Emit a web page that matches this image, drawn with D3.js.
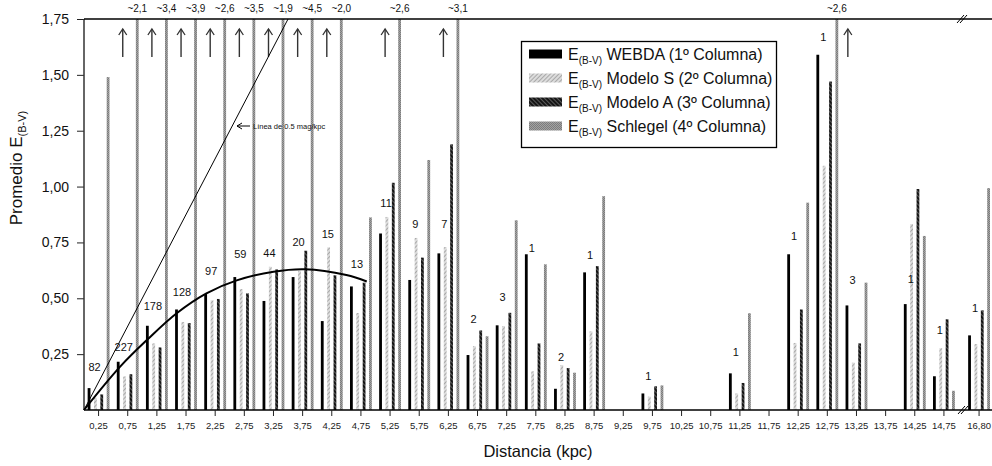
<!DOCTYPE html>
<html><head><meta charset="utf-8">
<script src="https://cdn.jsdelivr.net/npm/d3@7/dist/d3.min.js"></script>
<style>body{margin:0;background:#fff}svg{display:block;font-family:"Liberation Sans",Arial,sans-serif}</style>
</head><body><svg id="c" width="992" height="466"></svg>
<script>
// ---------- DATA ----------
const categories = ["0,25","0,75","1,25","1,75","2,25","2,75","3,25","3,75","4,25","4,75","5,25","5,75","6,25","6,75","7,25","7,75","8,25","8,75","9,25","9,75","10,25","10,75","11,25","11,75","12,25","12,75","13,25","13,75","14,25","14,75","16,80"];
const webda    = [0.098,0.216,0.377,0.450,0.519,0.595,0.488,0.595,0.398,0.553,0.790,0.582,0.701,0.246,0.379,0.697,0.095,0.616,null,0.074,null,null,0.164,null,0.697,1.590,0.468,null,0.474,0.151,0.334];
const modeloS  = [0.055,0.150,0.298,0.394,0.491,0.541,0.641,0.623,0.728,0.434,0.864,0.770,0.729,0.286,0.376,0.173,0.201,0.352,null,0.060,null,null,0.074,null,0.300,1.093,0.212,null,0.832,0.277,0.295];
const modeloA  = [0.070,0.160,0.280,0.389,0.497,0.522,0.629,0.713,0.603,0.570,1.017,0.682,1.189,0.356,0.435,0.298,0.188,0.644,null,0.106,null,null,0.121,null,0.450,1.470,0.298,null,0.989,0.406,0.446];
const schlegel = [1.49,2.1,3.4,3.9,2.6,3.5,1.9,4.5,2.0,0.862,2.6,1.119,3.1,0.330,0.849,0.652,0.167,0.957,null,0.110,null,null,0.433,null,0.928,2.6,0.570,null,0.779,0.086,0.993];
// number of clusters per bin, and the E(B-V) height at which each number is written
const counts   = [82,227,178,128,97,59,44,20,15,13,11,9,7,2,3,1,2,1,null,1,null,null,1,null,1,1,3,null,1,1,1];
const countAt  = [0.192,0.282,0.467,0.529,0.623,0.698,0.704,0.750,0.787,0.652,0.925,0.831,0.831,0.407,0.507,0.726,0.238,0.694,null,0.153,null,null,0.261,null,0.779,1.669,0.582,null,0.585,0.358,0.458];
const yTicks = [0.25,0.50,0.75,1.00,1.25,1.50,1.75];
// 0.5 mag/kpc reference line and polynomial trend (distance kpc, E(B-V))
const refLine = [[0,0],[3.5,1.75]];
const trendCurve = [[0,0],[0.62,0.194],[1.09,0.316],[1.59,0.433],[2.10,0.522],[2.62,0.58],[3.25,0.619],[3.79,0.63],[4.5,0.604],[4.85,0.575]];
const seriesNames = ["WEBDA (1º Columna)","Modelo S (2º Columna)","Modelo A (3º Columna)","Schlegel (4º Columna)"];

// ---------- SETUP ----------
const svg = d3.select("#c");
const yMax = 1.75;
const y = d3.scaleLinear().domain([0,yMax]).range([410,19]);
const mainCats = categories.slice(0,30);
const xBand = d3.scaleBand().domain(mainCats).range([84,958.5]);
const bw = xBand.bandwidth();
const xDist = d3.scaleLinear().domain([0,15]).range([84,958.5]);
const breakGap = 6;
function cx(i){ return i<30 ? xBand(categories[i])+bw/2 : 958.5+breakGap+bw/2; }

const keys = ["w","s","a","g"];
const seriesData = {w:webda,s:modeloS,a:modeloA,g:schlegel};
const inner = d3.scaleBand().domain(keys).range([0,25.4]);
const barW = 2.8;
function barX(i,k){ return cx(i)-12.7+inner(k)+(inner.step()-barW)/2; }

// patterns
const defs = svg.append("defs");
function hatch(id,bg,fg,angle,size,sw){
  const p = defs.append("pattern").attr("id",id).attr("patternUnits","userSpaceOnUse")
    .attr("width",size).attr("height",size).attr("patternTransform",`rotate(${angle})`);
  p.append("rect").attr("width",size).attr("height",size).attr("fill",bg);
  p.append("line").attr("x1",0.5).attr("y1",0).attr("x2",0.5).attr("y2",size).attr("stroke",fg).attr("stroke-width",sw);
}
hatch("pS","#dcdcdc","#a8a8a8",45,3,1);
hatch("pA","#151515","#5a5a5a",-45,3,1);
(function(){
  const p = defs.append("pattern").attr("id","pG").attr("patternUnits","userSpaceOnUse").attr("width",2).attr("height",2);
  p.append("rect").attr("width",2).attr("height",2).attr("fill","#a2a2a2");
  p.append("rect").attr("width",1).attr("height",1).attr("fill","#7c7c7c");
  p.append("rect").attr("x",1).attr("y",1).attr("width",1).attr("height",1).attr("fill","#7c7c7c");
})();
const fills = {w:"#000",s:"url(#pS)",a:"url(#pA)",g:"url(#pG)"};

// ---------- BARS ----------
keys.forEach(k=>{
  const vals = seriesData[k];
  svg.append("g").selectAll("rect").data(vals.map((v,i)=>({v,i})).filter(d=>d.v!=null))
    .join("rect")
    .attr("x",d=>barX(d.i,k)).attr("width",barW)
    .attr("y",d=>y(Math.min(d.v,yMax)))
    .attr("height",d=>y(0)-y(Math.min(d.v,yMax)))
    .attr("fill",fills[k]);
});

// clipped values: labels and arrows
const fmt = v => d3.format(".1f")(v).replace(".",",");
const clipped = schlegel.map((v,i)=>({v,i})).filter(d=>d.v!=null && d.v>yMax);
const gC = svg.append("g");
clipped.forEach(d=>{
  const bx = barX(d.i,"g")+barW/2;
  gC.append("text").attr("x",bx).attr("y",12).attr("text-anchor","middle")
    .attr("font-size",10).attr("fill","#111").text("~"+fmt(d.v));
  const side = categories[d.i]==="12,75" ? 11 : -14.5;
  const ax = bx+side;
  gC.append("line").attr("x1",ax).attr("x2",ax).attr("y1",57).attr("y2",29).attr("stroke","#333").attr("stroke-width",1.4);
  gC.append("path").attr("d",`M${ax-4},${35}L${ax},${29}L${ax+4},${35}`).attr("fill","none").attr("stroke","#333").attr("stroke-width",1.3);
});

// ---------- AXES ----------
const yAxis = svg.append("g").attr("transform","translate(84,0)")
  .call(d3.axisLeft(y).tickValues(yTicks).tickSize(7).tickPadding(8).tickFormat(v=>d3.format(".2f")(v).replace(".",",")));
yAxis.select(".domain").remove();
yAxis.selectAll("text").attr("font-size",14).attr("font-family","Liberation Sans, Arial, sans-serif").attr("fill","#111");
yAxis.selectAll("line").attr("stroke","#222");
svg.append("line").attr("x1",84).attr("x2",84).attr("y1",19).attr("y2",410).attr("stroke","#333").attr("stroke-width",1.5);
svg.append("line").attr("x1",84).attr("x2",992).attr("y1",410).attr("y2",410).attr("stroke","#000").attr("stroke-width",1.5);
svg.append("line").attr("x1",84).attr("x2",992).attr("y1",19).attr("y2",19).attr("stroke","#000").attr("stroke-width",1.5);

const gX = svg.append("g");
categories.forEach((c,i)=>{
  gX.append("line").attr("x1",cx(i)).attr("x2",cx(i)).attr("y1",410).attr("y2",416).attr("stroke","#222");
  gX.append("text").attr("x",cx(i)).attr("y",429).attr("text-anchor","middle").attr("font-size",9.5).attr("fill","#222").text(c);
});

// axis breaks
function brk(x,yy){
  [-1.5,1.5].forEach(o=>{
    svg.append("line").attr("x1",x+o-3.5).attr("y1",yy+4).attr("x2",x+o+3.5).attr("y2",yy-4).attr("stroke","#000").attr("stroke-width",1);
  });
}
brk(962,19); brk(963,410);

// titles
svg.append("text").attr("x",538).attr("y",457).attr("text-anchor","middle").attr("font-size",16.5).attr("fill","#111").text("Distancia (kpc)");
const yt = svg.append("text").attr("transform","translate(22,168) rotate(-90)").attr("text-anchor","middle").attr("font-size",17).attr("fill","#111");
yt.append("tspan").text("Promedio E");
yt.append("tspan").attr("font-size",11).attr("dy",4).text("(B-V)");

// ---------- LINES ----------
const line = d3.line().x(d=>xDist(d[0])).y(d=>y(d[1]));
svg.append("path").datum(refLine).attr("d",line).attr("fill","none").attr("stroke","#000").attr("stroke-width",1);
svg.append("path").datum(trendCurve).attr("d",line.curve(d3.curveCatmullRom)).attr("fill","none").attr("stroke","#000").attr("stroke-width",2);
// annotation
svg.append("line").attr("x1",250).attr("x2",237).attr("y1",126).attr("y2",126).attr("stroke","#000").attr("stroke-width",1);
svg.append("path").attr("d","M242,123L237,126L242,129").attr("fill","none").attr("stroke","#000").attr("stroke-width",1);
svg.append("text").attr("x",253).attr("y",129).attr("font-size",7.5).attr("fill","#111").text("Línea de 0.5 mag/kpc");

// count labels
counts.forEach((n,i)=>{
  if(n==null) return;
  svg.append("text").attr("x",cx(i)-4).attr("y",y(countAt[i])+4).attr("text-anchor","middle")
    .attr("font-size",11).attr("fill","#111").text(n);
});

// ---------- LEGEND ----------
const lg = svg.append("g");
lg.append("rect").attr("x",521.5).attr("y",41.5).attr("width",255).attr("height",106).attr("fill","#fff").attr("stroke","#000").attr("stroke-width",1.3);
keys.forEach((k,j)=>{
  const cy = 54+j*24;
  lg.append("rect").attr("x",529).attr("y",cy-4.5).attr("width",33).attr("height",9).attr("fill",fills[k]);
  const t = lg.append("text").attr("x",568).attr("y",cy+6).attr("font-size",16).attr("fill","#111");
  t.append("tspan").text("E");
  t.append("tspan").attr("font-size",10).attr("dy",4).text("(B-V)");
  t.append("tspan").attr("dy",-4).text(" "+seriesNames[j]);
});
</script></body></html>
